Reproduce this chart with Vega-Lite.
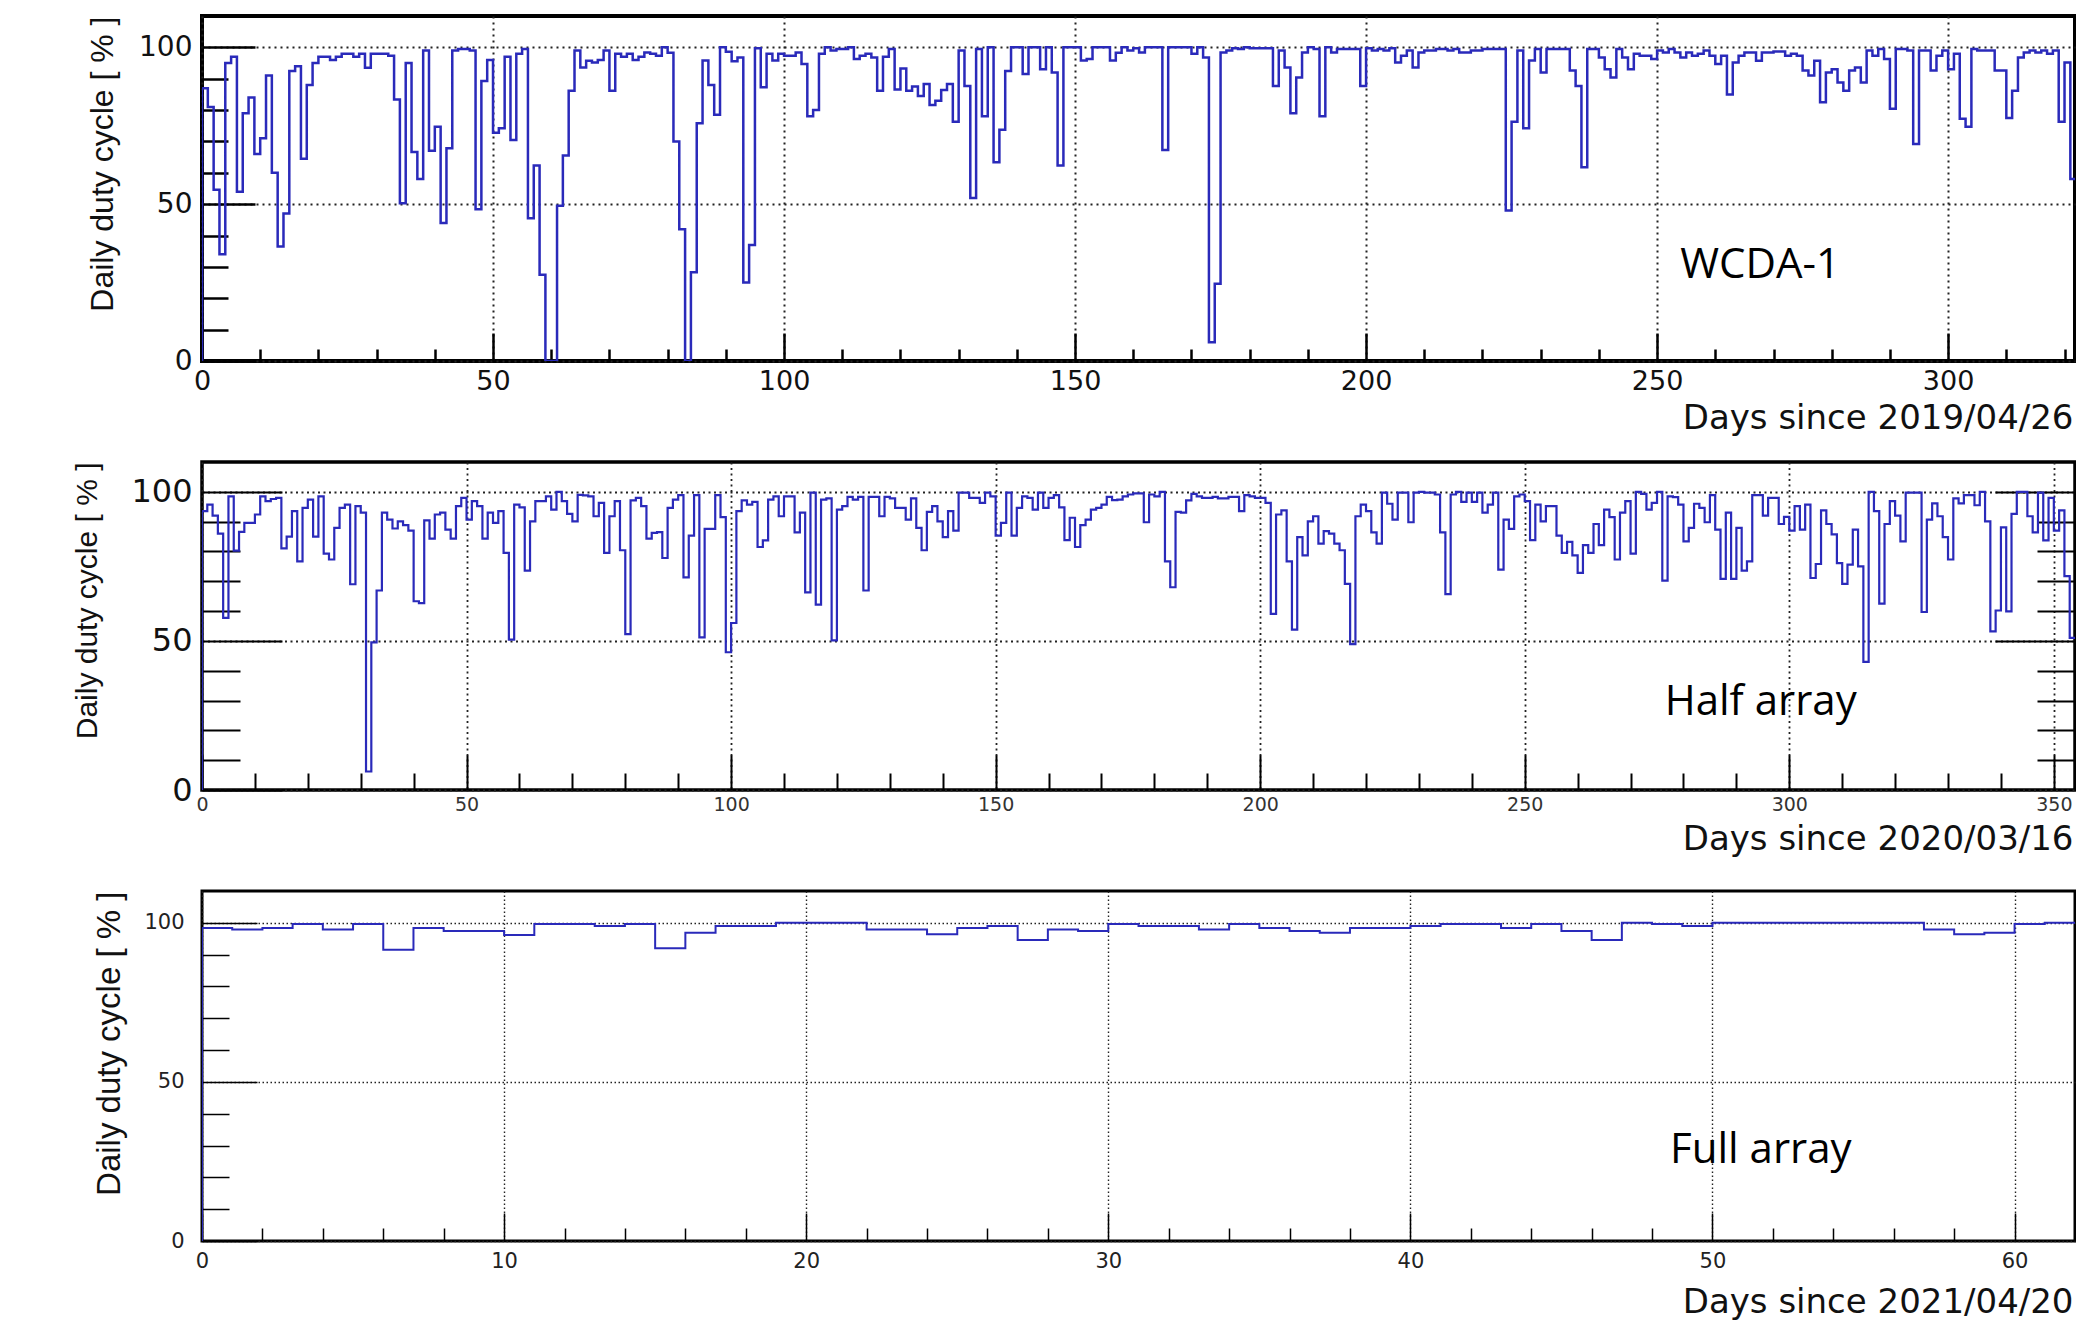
{
"$schema": "https://vega.github.io/schema/vega-lite/v6.json",
"autosize": {"type": "none"},
"padding": {"left": 202, "top": 16, "right": 1874, "bottom": 1304},
"background": "white",
"config": {"axis": {"tickCap": "butt"}},
"datasets": {
"p1": [{"d":0,"v":0},{"d":0,"v":87},{"d":1,"v":81},{"d":2,"v":54.6},{"d":3,"v":34},{"d":4,"v":95},{"d":5,"v":97},{"d":6,"v":54},{"d":7,"v":79},{"d":8,"v":84},{"d":9,"v":66},{"d":10,"v":71},{"d":11,"v":91},{"d":12,"v":60},{"d":13,"v":36.5},{"d":14,"v":47},{"d":15,"v":92.5},{"d":16,"v":94},{"d":17,"v":64.5},{"d":18,"v":88},{"d":19,"v":95},{"d":20,"v":97},{"d":21,"v":97},{"d":22,"v":96},{"d":23,"v":97},{"d":24,"v":98},{"d":25,"v":98},{"d":26,"v":97},{"d":27,"v":98},{"d":28,"v":93.5},{"d":29,"v":98},{"d":30,"v":98},{"d":31,"v":98},{"d":32,"v":97.3},{"d":33,"v":83.4},{"d":34,"v":50.3},{"d":35,"v":95},{"d":36,"v":66.6},{"d":37,"v":58},{"d":38,"v":99},{"d":39,"v":67},{"d":40,"v":74.7},{"d":41,"v":44},{"d":42,"v":67.8},{"d":43,"v":99},{"d":44,"v":99.5},{"d":45,"v":99.5},{"d":46,"v":99},{"d":47,"v":48.4},{"d":48,"v":89.3},{"d":49,"v":96},{"d":50,"v":72.8},{"d":51,"v":74.2},{"d":52,"v":97},{"d":53,"v":70.5},{"d":54,"v":98},{"d":55,"v":99.5},{"d":56,"v":45.5},{"d":57,"v":62.3},{"d":58,"v":27.5},{"d":59,"v":0},{"d":60,"v":0},{"d":61,"v":49.5},{"d":62,"v":65.5},{"d":63,"v":86.2},{"d":64,"v":99},{"d":65,"v":93.6},{"d":66,"v":95.7},{"d":67,"v":95.2},{"d":68,"v":96},{"d":69,"v":99},{"d":70,"v":86.2},{"d":71,"v":98},{"d":72,"v":97},{"d":73,"v":98},{"d":74,"v":96},{"d":75,"v":97},{"d":76,"v":98.4},{"d":77,"v":98},{"d":78,"v":97.3},{"d":79,"v":100},{"d":80,"v":98.3},{"d":81,"v":70},{"d":82,"v":42},{"d":83,"v":0},{"d":84,"v":28.3},{"d":85,"v":75.8},{"d":86,"v":95.8},{"d":87,"v":88},{"d":88,"v":78.5},{"d":89,"v":100},{"d":90,"v":98.6},{"d":91,"v":95.6},{"d":92,"v":96.8},{"d":93,"v":25},{"d":94,"v":37},{"d":95,"v":99.7},{"d":96,"v":87.3},{"d":97,"v":98},{"d":98,"v":95.8},{"d":99,"v":98},{"d":100,"v":97.3},{"d":101,"v":97.3},{"d":102,"v":98.4},{"d":103,"v":94.7},{"d":104,"v":78},{"d":105,"v":80},{"d":106,"v":98},{"d":107,"v":100},{"d":108,"v":99},{"d":109,"v":99.5},{"d":110,"v":99.5},{"d":111,"v":100},{"d":112,"v":96.3},{"d":113,"v":97.3},{"d":114,"v":98},{"d":115,"v":96.8},{"d":116,"v":86.2},{"d":117,"v":97},{"d":118,"v":99.5},{"d":119,"v":86.6},{"d":120,"v":93.3},{"d":121,"v":86.2},{"d":122,"v":87.5},{"d":123,"v":84.5},{"d":124,"v":88.3},{"d":125,"v":81.6},{"d":126,"v":83},{"d":127,"v":86.4},{"d":128,"v":88.3},{"d":129,"v":76.3},{"d":130,"v":99},{"d":131,"v":87.7},{"d":132,"v":52},{"d":133,"v":99.5},{"d":134,"v":78},{"d":135,"v":100},{"d":136,"v":63.4},{"d":137,"v":73.7},{"d":138,"v":92.5},{"d":139,"v":100},{"d":140,"v":100},{"d":141,"v":91.5},{"d":142,"v":100},{"d":143,"v":100},{"d":144,"v":93},{"d":145,"v":100},{"d":146,"v":92},{"d":147,"v":62.3},{"d":148,"v":100},{"d":149,"v":100},{"d":150,"v":100},{"d":151,"v":95.8},{"d":152,"v":96.3},{"d":153,"v":100},{"d":154,"v":100},{"d":155,"v":100},{"d":156,"v":95.8},{"d":157,"v":98.3},{"d":158,"v":100},{"d":159,"v":99},{"d":160,"v":99.7},{"d":161,"v":98.4},{"d":162,"v":100},{"d":163,"v":100},{"d":164,"v":100},{"d":165,"v":67.3},{"d":166,"v":100},{"d":167,"v":100},{"d":168,"v":100},{"d":169,"v":100},{"d":170,"v":98},{"d":171,"v":100},{"d":172,"v":96.8},{"d":173,"v":6},{"d":174,"v":24.6},{"d":175,"v":98.4},{"d":176,"v":99},{"d":177,"v":99.7},{"d":178,"v":99.5},{"d":179,"v":100},{"d":180,"v":99.7},{"d":181,"v":99.7},{"d":182,"v":99.7},{"d":183,"v":99.7},{"d":184,"v":87.7},{"d":185,"v":99},{"d":186,"v":93.6},{"d":187,"v":79},{"d":188,"v":90.4},{"d":189,"v":98.4},{"d":190,"v":100},{"d":191,"v":99.5},{"d":192,"v":78},{"d":193,"v":100},{"d":194,"v":98.4},{"d":195,"v":99.5},{"d":196,"v":99.5},{"d":197,"v":99.5},{"d":198,"v":99.5},{"d":199,"v":87.7},{"d":200,"v":99.7},{"d":201,"v":99},{"d":202,"v":99.5},{"d":203,"v":99},{"d":204,"v":99.7},{"d":205,"v":95.2},{"d":206,"v":97.3},{"d":207,"v":99},{"d":208,"v":93.6},{"d":209,"v":98.4},{"d":210,"v":99},{"d":211,"v":99},{"d":212,"v":99.5},{"d":213,"v":99.5},{"d":214,"v":99},{"d":215,"v":99.5},{"d":216,"v":98.4},{"d":217,"v":98.4},{"d":218,"v":99},{"d":219,"v":99},{"d":220,"v":99.5},{"d":221,"v":99.5},{"d":222,"v":99.5},{"d":223,"v":99.5},{"d":224,"v":48},{"d":225,"v":76.3},{"d":226,"v":99},{"d":227,"v":74.2},{"d":228,"v":95.8},{"d":229,"v":99.5},{"d":230,"v":92},{"d":231,"v":99.5},{"d":232,"v":99.5},{"d":233,"v":99.5},{"d":234,"v":99.5},{"d":235,"v":92.6},{"d":236,"v":87.7},{"d":237,"v":61.8},{"d":238,"v":99.5},{"d":239,"v":99.5},{"d":240,"v":96.8},{"d":241,"v":93},{"d":242,"v":90.4},{"d":243,"v":99.5},{"d":244,"v":96.8},{"d":245,"v":93},{"d":246,"v":98},{"d":247,"v":97.3},{"d":248,"v":97.3},{"d":249,"v":96.3},{"d":250,"v":99},{"d":251,"v":98.4},{"d":252,"v":99.5},{"d":253,"v":98.4},{"d":254,"v":96.8},{"d":255,"v":98.4},{"d":256,"v":97.3},{"d":257,"v":98},{"d":258,"v":99},{"d":259,"v":97.3},{"d":260,"v":94.7},{"d":261,"v":97.3},{"d":262,"v":85},{"d":263,"v":95.2},{"d":264,"v":97.3},{"d":265,"v":98.4},{"d":266,"v":98.4},{"d":267,"v":95.7},{"d":268,"v":98.4},{"d":269,"v":98.4},{"d":270,"v":98.7},{"d":271,"v":98.7},{"d":272,"v":97.3},{"d":273,"v":98},{"d":274,"v":97.3},{"d":275,"v":92.6},{"d":276,"v":91},{"d":277,"v":95.7},{"d":278,"v":82.5},{"d":279,"v":92},{"d":280,"v":93},{"d":281,"v":88.8},{"d":282,"v":86.2},{"d":283,"v":92.6},{"d":284,"v":93.6},{"d":285,"v":88.8},{"d":286,"v":99},{"d":287,"v":97.3},{"d":288,"v":99.5},{"d":289,"v":96.3},{"d":290,"v":80.4},{"d":291,"v":99.5},{"d":292,"v":99.5},{"d":293,"v":99},{"d":294,"v":69.2},{"d":295,"v":99},{"d":296,"v":99},{"d":297,"v":92.6},{"d":298,"v":97.3},{"d":299,"v":99},{"d":300,"v":93},{"d":301,"v":98},{"d":302,"v":77.2},{"d":303,"v":74.7},{"d":304,"v":99.5},{"d":305,"v":99},{"d":306,"v":99},{"d":307,"v":99},{"d":308,"v":92.6},{"d":309,"v":92.6},{"d":310,"v":77.5},{"d":311,"v":86.2},{"d":312,"v":96.8},{"d":313,"v":98.4},{"d":314,"v":99},{"d":315,"v":98.4},{"d":316,"v":99},{"d":317,"v":98},{"d":318,"v":99},{"d":319,"v":76.3},{"d":320,"v":95.2},{"d":321,"v":58},{"d":322,"v":58}],
"p2": [{"d":0,"v":0},{"d":0,"v":93.5},{"d":1,"v":95.7},{"d":2,"v":92},{"d":3,"v":86},{"d":4,"v":57.7},{"d":5,"v":98.5},{"d":6,"v":80.3},{"d":7,"v":86.6},{"d":8,"v":89.6},{"d":9,"v":89.6},{"d":10,"v":92.4},{"d":11,"v":98.5},{"d":12,"v":96.9},{"d":13,"v":97.6},{"d":14,"v":98},{"d":15,"v":81},{"d":16,"v":85},{"d":17,"v":93.5},{"d":18,"v":76.7},{"d":19,"v":94.6},{"d":20,"v":97.4},{"d":21,"v":85},{"d":22,"v":98.5},{"d":23,"v":79.3},{"d":24,"v":77.3},{"d":25,"v":87.9},{"d":26,"v":94.6},{"d":27,"v":95.7},{"d":28,"v":69},{"d":29,"v":95.2},{"d":30,"v":93},{"d":31,"v":6.2},{"d":32,"v":49.5},{"d":33,"v":66.9},{"d":34,"v":93},{"d":35,"v":90.7},{"d":36,"v":87.7},{"d":37,"v":90.1},{"d":38,"v":88.8},{"d":39,"v":87},{"d":40,"v":63.3},{"d":41,"v":62.7},{"d":42,"v":90.4},{"d":43,"v":84.3},{"d":44,"v":92.4},{"d":45,"v":93},{"d":46,"v":87.3},{"d":47,"v":84.3},{"d":48,"v":95.2},{"d":49,"v":98},{"d":50,"v":90.7},{"d":51,"v":96.9},{"d":52,"v":95.2},{"d":53,"v":84.3},{"d":54,"v":93},{"d":55,"v":89.6},{"d":56,"v":93.5},{"d":57,"v":79.5},{"d":58,"v":50.4},{"d":59,"v":95.7},{"d":60,"v":94.8},{"d":61,"v":73.6},{"d":62,"v":90.1},{"d":63,"v":96.9},{"d":64,"v":96.9},{"d":65,"v":98.5},{"d":66,"v":94},{"d":67,"v":100},{"d":68,"v":96.9},{"d":69,"v":92.6},{"d":70,"v":90.1},{"d":71,"v":99},{"d":72,"v":98.8},{"d":73,"v":98.5},{"d":74,"v":91.8},{"d":75,"v":96.3},{"d":76,"v":79.5},{"d":77,"v":91.8},{"d":78,"v":96.9},{"d":79,"v":80.4},{"d":80,"v":52.3},{"d":81,"v":97.1},{"d":82,"v":98},{"d":83,"v":95.2},{"d":84,"v":84.3},{"d":85,"v":86.2},{"d":86,"v":86.5},{"d":87,"v":77.8},{"d":88,"v":94.6},{"d":89,"v":97.4},{"d":90,"v":98.9},{"d":91,"v":71.3},{"d":92,"v":85.3},{"d":93,"v":98.9},{"d":94,"v":51.2},{"d":95,"v":87.6},{"d":96,"v":87.6},{"d":97,"v":98.9},{"d":98,"v":91.5},{"d":99,"v":46.2},{"d":100,"v":56},{"d":101,"v":93.5},{"d":102,"v":97.1},{"d":103,"v":95.7},{"d":104,"v":96.6},{"d":105,"v":81.5},{"d":106,"v":83.7},{"d":107,"v":97.4},{"d":108,"v":98.5},{"d":109,"v":91.8},{"d":110,"v":98.5},{"d":111,"v":98.5},{"d":112,"v":86.4},{"d":113,"v":93},{"d":114,"v":66.3},{"d":115,"v":99.7},{"d":116,"v":62.2},{"d":117,"v":97.4},{"d":118,"v":97.8},{"d":119,"v":50.2},{"d":120,"v":94},{"d":121,"v":95.2},{"d":122,"v":98.3},{"d":123,"v":97.4},{"d":124,"v":98.3},{"d":125,"v":66.9},{"d":126,"v":98.3},{"d":127,"v":98.3},{"d":128,"v":91.8},{"d":129,"v":98.3},{"d":130,"v":97.8},{"d":131,"v":94.6},{"d":132,"v":94.6},{"d":133,"v":90.7},{"d":134,"v":97.8},{"d":135,"v":87.9},{"d":136,"v":80.4},{"d":137,"v":93.3},{"d":138,"v":95.2},{"d":139,"v":90.1},{"d":140,"v":84.8},{"d":141,"v":93.5},{"d":142,"v":87},{"d":143,"v":99.7},{"d":144,"v":99.7},{"d":145,"v":98},{"d":146,"v":98},{"d":147,"v":96.3},{"d":148,"v":99.7},{"d":149,"v":98.5},{"d":150,"v":85.3},{"d":151,"v":89.6},{"d":152,"v":99.7},{"d":153,"v":85.3},{"d":154,"v":94.6},{"d":155,"v":98.5},{"d":156,"v":98},{"d":157,"v":94},{"d":158,"v":99.7},{"d":159,"v":94.6},{"d":160,"v":98},{"d":161,"v":98.9},{"d":162,"v":94.8},{"d":163,"v":83.8},{"d":164,"v":91.3},{"d":165,"v":81.5},{"d":166,"v":88.8},{"d":167,"v":90.7},{"d":168,"v":94},{"d":169,"v":94.6},{"d":170,"v":95.7},{"d":171,"v":98.3},{"d":172,"v":97.2},{"d":173,"v":97.4},{"d":174,"v":98.5},{"d":175,"v":99.1},{"d":176,"v":99.5},{"d":177,"v":99.5},{"d":178,"v":89.8},{"d":179,"v":99.1},{"d":180,"v":98.5},{"d":181,"v":100},{"d":182,"v":76.7},{"d":183,"v":68},{"d":184,"v":93.3},{"d":185,"v":93},{"d":186,"v":97.1},{"d":187,"v":99.3},{"d":188,"v":98.5},{"d":189,"v":98},{"d":190,"v":98},{"d":191,"v":98.3},{"d":192,"v":97.8},{"d":193,"v":97.8},{"d":194,"v":98.3},{"d":195,"v":98.3},{"d":196,"v":93.5},{"d":197,"v":98.9},{"d":198,"v":98.5},{"d":199,"v":98},{"d":200,"v":98},{"d":201,"v":96.3},{"d":202,"v":59.1},{"d":203,"v":92.4},{"d":204,"v":93.8},{"d":205,"v":76.7},{"d":206,"v":53.8},{"d":207,"v":84.8},{"d":208,"v":78.7},{"d":209,"v":90.1},{"d":210,"v":91.8},{"d":211,"v":82.6},{"d":212,"v":86.8},{"d":213,"v":86},{"d":214,"v":82.6},{"d":215,"v":80.4},{"d":216,"v":69.1},{"d":217,"v":48.9},{"d":218,"v":91.8},{"d":219,"v":95.7},{"d":220,"v":93.5},{"d":221,"v":86.4},{"d":222,"v":82.6},{"d":223,"v":99.7},{"d":224,"v":96},{"d":225,"v":90.7},{"d":226,"v":99.7},{"d":227,"v":99.7},{"d":228,"v":89.8},{"d":229,"v":99.7},{"d":230,"v":100},{"d":231,"v":99.7},{"d":232,"v":99.7},{"d":233,"v":99.1},{"d":234,"v":86.4},{"d":235,"v":65.7},{"d":236,"v":99.1},{"d":237,"v":100},{"d":238,"v":96.6},{"d":239,"v":99.7},{"d":240,"v":96.6},{"d":241,"v":99.7},{"d":242,"v":93},{"d":243,"v":95.7},{"d":244,"v":99.7},{"d":245,"v":73.9},{"d":246,"v":90.7},{"d":247,"v":87.6},{"d":248,"v":98.5},{"d":249,"v":99.1},{"d":250,"v":96.9},{"d":251,"v":83.8},{"d":252,"v":95.7},{"d":253,"v":90.1},{"d":254,"v":95.2},{"d":255,"v":95.2},{"d":256,"v":85.3},{"d":257,"v":79.5},{"d":258,"v":83.2},{"d":259,"v":78.7},{"d":260,"v":72.8},{"d":261,"v":82.1},{"d":262,"v":79.5},{"d":263,"v":89.2},{"d":264,"v":82.1},{"d":265,"v":94},{"d":266,"v":91.5},{"d":267,"v":77.3},{"d":268,"v":93},{"d":269,"v":96.9},{"d":270,"v":79.3},{"d":271,"v":100},{"d":272,"v":99.3},{"d":273,"v":94},{"d":274,"v":96.3},{"d":275,"v":100},{"d":276,"v":70.2},{"d":277,"v":98.5},{"d":278,"v":98.2},{"d":279,"v":95.7},{"d":280,"v":83.4},{"d":281,"v":87.9},{"d":282,"v":96},{"d":283,"v":94.6},{"d":284,"v":89.8},{"d":285,"v":98.9},{"d":286,"v":87.3},{"d":287,"v":70.8},{"d":288,"v":93},{"d":289,"v":70.8},{"d":290,"v":87.9},{"d":291,"v":73.6},{"d":292,"v":76.7},{"d":293,"v":98.9},{"d":294,"v":98.9},{"d":295,"v":92},{"d":296,"v":98},{"d":297,"v":98},{"d":298,"v":89.2},{"d":299,"v":91.6},{"d":300,"v":87},{"d":301,"v":95.2},{"d":302,"v":87.3},{"d":303,"v":95.7},{"d":304,"v":71.1},{"d":305,"v":75.8},{"d":306,"v":93.8},{"d":307,"v":89.2},{"d":308,"v":85.7},{"d":309,"v":76.1},{"d":310,"v":69.1},{"d":311,"v":75.6},{"d":312,"v":87.3},{"d":313,"v":75},{"d":314,"v":43},{"d":315,"v":100},{"d":316,"v":93.5},{"d":317,"v":62.5},{"d":318,"v":89.2},{"d":319,"v":96.9},{"d":320,"v":92},{"d":321,"v":83.4},{"d":322,"v":99.7},{"d":323,"v":99.7},{"d":324,"v":99.7},{"d":325,"v":59.7},{"d":326,"v":90.7},{"d":327,"v":96.1},{"d":328,"v":91.8},{"d":329,"v":84.8},{"d":330,"v":77.3},{"d":331,"v":97.8},{"d":332,"v":96.1},{"d":333,"v":98.9},{"d":334,"v":98.9},{"d":335,"v":95.5},{"d":336,"v":100},{"d":337,"v":90.1},{"d":338,"v":53.2},{"d":339,"v":60.2},{"d":340,"v":88.1},{"d":341,"v":59.9},{"d":342,"v":92.6},{"d":343,"v":100},{"d":344,"v":100},{"d":345,"v":91.8},{"d":346,"v":86.4},{"d":347,"v":99.7},{"d":348,"v":83.7},{"d":349,"v":98},{"d":350,"v":87},{"d":351,"v":93.8},{"d":352,"v":71.7},{"d":353,"v":51},{"d":354,"v":51}],
"p3": [{"d":0,"v":0},{"d":0,"v":98.4},{"d":1,"v":97.9},{"d":2,"v":98.4},{"d":3,"v":99.6},{"d":4,"v":97.9},{"d":5,"v":99.6},{"d":6,"v":91.5},{"d":7,"v":98.4},{"d":8,"v":97.4},{"d":9,"v":97.4},{"d":10,"v":96.2},{"d":11,"v":99.6},{"d":12,"v":99.6},{"d":13,"v":99},{"d":14,"v":99.6},{"d":15,"v":92},{"d":16,"v":96.9},{"d":17,"v":99},{"d":18,"v":99},{"d":19,"v":100},{"d":20,"v":100},{"d":21,"v":100},{"d":22,"v":97.9},{"d":23,"v":97.9},{"d":24,"v":96.4},{"d":25,"v":98.4},{"d":26,"v":99},{"d":27,"v":94.6},{"d":28,"v":97.9},{"d":29,"v":97.4},{"d":30,"v":99.6},{"d":31,"v":99},{"d":32,"v":99},{"d":33,"v":97.9},{"d":34,"v":99.6},{"d":35,"v":98.4},{"d":36,"v":97.4},{"d":37,"v":96.9},{"d":38,"v":98.4},{"d":39,"v":98.4},{"d":40,"v":99},{"d":41,"v":99.6},{"d":42,"v":99.6},{"d":43,"v":98.4},{"d":44,"v":99.6},{"d":45,"v":97.4},{"d":46,"v":94.6},{"d":47,"v":100},{"d":48,"v":99.6},{"d":49,"v":99},{"d":50,"v":100},{"d":51,"v":100},{"d":52,"v":100},{"d":53,"v":100},{"d":54,"v":100},{"d":55,"v":100},{"d":56,"v":100},{"d":57,"v":97.9},{"d":58,"v":96.4},{"d":59,"v":96.9},{"d":60,"v":99.6},{"d":61,"v":100},{"d":62,"v":100}]
},
"vconcat": [
{
"width": 1873, "height": 345,
"view": {"stroke": "black", "strokeWidth": 4},
"resolve": {"axis": {"x": "independent", "y": "independent"}},
"layer": [
{"data": {"name": "p1"},
 "mark": {"type": "line", "interpolate": "step-after", "color": "#2a2aba", "strokeWidth": 2.5, "clip": true},
 "encoding": {
  "x": {"field": "d", "type": "quantitative", "scale": {"domain": [0, 321.8], "nice": false, "zero": false},
   "axis": {"orient": "bottom", "values": [0,50,100,150,200,250,300], "tickSize": -28, "tickWidth": 2.5, "tickColor": "black", "labelPadding": 35, "labelFont": "DejaVu Sans", "labelFontSize": 27, "labelColor": "#111", "labelFlush": false, "labelOverlap": false, "domain": false, "grid": true, "gridDash": [2,4], "gridColor": "#222", "gridWidth": 2, "title": "Days since 2019/04/26", "titleFont": "DejaVu Sans", "titleFontSize": 34, "titleFontWeight": "normal", "titleColor": "#111", "titleX": 1871, "titleY": 67, "titleAlign": "right", "titleBaseline": "alphabetic", "titleAngle": 0}},
  "y": {"field": "v", "type": "quantitative", "scale": {"domain": [0, 110], "nice": false},
   "axis": {"orient": "left", "values": [0,50,100], "tickSize": -53, "tickWidth": 2.5, "tickColor": "black", "labelPadding": 63, "labelFont": "DejaVu Sans", "labelFontSize": 28, "labelColor": "#111", "labelOverlap": false, "domain": false, "grid": true, "gridDash": [2,4], "gridColor": "#222", "gridWidth": 2, "title": "Daily duty cycle [ % ]", "titleFont": "Liberation Sans", "titleFontSize": 32, "titleFontWeight": "normal", "titleColor": "#111", "titleX": -100, "titleY": 0, "titleAlign": "right", "titleBaseline": "middle", "titleAngle": -90}}
 }},
{"data": {"name": "p1"},
 "mark": {"type": "line", "opacity": 0},
 "encoding": {
  "x": {"field": "d", "type": "quantitative", "scale": {"domain": [0, 321.8], "nice": false, "zero": false},
   "axis": {"orient": "bottom", "values": [10,20,30,40,60,70,80,90,110,120,130,140,160,170,180,190,210,220,230,240,260,270,280,290,310,320], "tickSize": -12, "tickWidth": 2.5, "tickColor": "black", "labels": false, "domain": false, "grid": false, "title": null}},
  "y": {"field": "v", "type": "quantitative", "scale": {"domain": [0, 110], "nice": false},
   "axis": {"orient": "left", "values": [10,20,30,40,60,70,80,90], "tickSize": -26, "tickWidth": 2.5, "tickColor": "black", "labels": false, "domain": false, "grid": false, "title": null}}
 }},
{"data": {"values": [{"x": 267.7, "y": 26.5, "t": "WCDA-1"}]},
 "mark": {"type": "text", "font": "Open Sans", "fontSize": 42, "align": "center", "baseline": "alphabetic", "color": "black"},
 "encoding": {
  "x": {"field": "x", "type": "quantitative", "scale": {"domain": [0, 321.8], "nice": false, "zero": false}, "axis": null},
  "y": {"field": "y", "type": "quantitative", "scale": {"domain": [0, 110], "nice": false}, "axis": null},
  "text": {"field": "t"}
 }}
]
},
{
"width": 1873, "height": 328,
"view": {"stroke": "black", "strokeWidth": 3.5},
"resolve": {"axis": {"x": "independent", "y": "independent"}},
"layer": [
{"data": {"name": "p2"},
 "mark": {"type": "line", "interpolate": "step-after", "color": "#2a2aba", "strokeWidth": 2.2, "clip": true},
 "encoding": {
  "x": {"field": "d", "type": "quantitative", "scale": {"domain": [0, 354], "nice": false, "zero": false},
   "axis": {"orient": "bottom", "values": [0,50,100,150,200,250,300,350], "tickSize": -35, "tickWidth": 2, "tickColor": "black", "labelPadding": 40, "labelFont": "DejaVu Sans", "labelFontSize": 19, "labelColor": "#333", "labelFlush": false, "labelOverlap": false, "domain": false, "grid": true, "gridDash": [2,3.5], "gridColor": "#222", "gridWidth": 1.8, "title": "Days since 2020/03/16", "titleFont": "DejaVu Sans", "titleFontSize": 34, "titleFontWeight": "normal", "titleColor": "#111", "titleX": 1871, "titleY": 59, "titleAlign": "right", "titleBaseline": "alphabetic", "titleAngle": 0}},
  "y": {"field": "v", "type": "quantitative", "scale": {"domain": [0, 110], "nice": false},
   "axis": {"orient": "left", "values": [0,50,100], "tickSize": -80, "tickWidth": 2, "tickColor": "black", "labelPadding": 90, "labelFont": "DejaVu Sans", "labelFontSize": 32, "labelColor": "#111", "labelOverlap": false, "domain": false, "grid": true, "gridDash": [2,3.5], "gridColor": "#222", "gridWidth": 1.8, "title": "Daily duty cycle [ % ]", "titleFont": "Liberation Sans", "titleFontSize": 30, "titleFontWeight": "normal", "titleColor": "#111", "titleX": -115, "titleY": 0, "titleAlign": "right", "titleBaseline": "middle", "titleAngle": -90}}
 }},
{"data": {"name": "p2"},
 "mark": {"type": "line", "opacity": 0},
 "encoding": {
  "x": {"field": "d", "type": "quantitative", "scale": {"domain": [0, 354], "nice": false, "zero": false},
   "axis": {"orient": "bottom", "values": [10,20,30,40,60,70,80,90,110,120,130,140,160,170,180,190,210,220,230,240,260,270,280,290,310,320,330,340], "tickSize": -17, "tickWidth": 2, "tickColor": "black", "labels": false, "domain": false, "grid": false, "title": null}},
  "y": {"field": "v", "type": "quantitative", "scale": {"domain": [0, 110], "nice": false},
   "axis": {"orient": "left", "values": [10,20,30,40,60,70,80,90], "tickSize": -38, "tickWidth": 2, "tickColor": "black", "labels": false, "domain": false, "grid": false, "title": null}}
 }},
{"data": {"name": "p2"},
 "mark": {"type": "line", "opacity": 0},
 "encoding": {
  "x": {"field": "d", "type": "quantitative", "scale": {"domain": [0, 354], "nice": false, "zero": false}, "axis": null},
  "y": {"field": "v", "type": "quantitative", "scale": {"domain": [0, 110], "nice": false},
   "axis": {"orient": "right", "values": [50,100], "tickSize": -80, "tickWidth": 2, "tickColor": "black", "labels": false, "domain": false, "grid": false, "title": null}}
 }},
{"data": {"name": "p2"},
 "mark": {"type": "line", "opacity": 0},
 "encoding": {
  "x": {"field": "d", "type": "quantitative", "scale": {"domain": [0, 354], "nice": false, "zero": false}, "axis": null},
  "y": {"field": "v", "type": "quantitative", "scale": {"domain": [0, 110], "nice": false},
   "axis": {"orient": "right", "values": [10,20,30,40,60,70,80,90], "tickSize": -38, "tickWidth": 2, "tickColor": "black", "labels": false, "domain": false, "grid": false, "title": null}}
 }},
{"data": {"values": [{"x": 294.6, "y": 25.2, "t": "Half array"}]},
 "mark": {"type": "text", "font": "Open Sans", "fontSize": 42, "align": "center", "baseline": "alphabetic", "color": "black"},
 "encoding": {
  "x": {"field": "x", "type": "quantitative", "scale": {"domain": [0, 354], "nice": false, "zero": false}, "axis": null},
  "y": {"field": "y", "type": "quantitative", "scale": {"domain": [0, 110], "nice": false}, "axis": null},
  "text": {"field": "t"}
 }}
]
},
{
"width": 1873, "height": 350,
"view": {"stroke": "black", "strokeWidth": 3},
"resolve": {"axis": {"x": "independent", "y": "independent"}},
"layer": [
{"data": {"name": "p3"},
 "mark": {"type": "line", "interpolate": "step-after", "color": "#2a2aba", "strokeWidth": 2, "clip": true},
 "encoding": {
  "x": {"field": "d", "type": "quantitative", "scale": {"domain": [0, 62], "nice": false, "zero": false},
   "axis": {"orient": "bottom", "values": [0,10,20,30,40,50,60], "tickSize": -28, "tickWidth": 1.5, "tickColor": "black", "labelPadding": 37, "labelFont": "DejaVu Sans", "labelFontSize": 21, "labelColor": "#222", "labelFlush": false, "labelOverlap": false, "domain": false, "grid": true, "gridDash": [1.5,2.5], "gridColor": "#222", "gridWidth": 1.4, "title": "Days since 2021/04/20", "titleFont": "DejaVu Sans", "titleFontSize": 34, "titleFontWeight": "normal", "titleColor": "#111", "titleX": 1871, "titleY": 71, "titleAlign": "right", "titleBaseline": "alphabetic", "titleAngle": 0}},
  "y": {"field": "v", "type": "quantitative", "scale": {"domain": [0, 110], "nice": false},
   "axis": {"orient": "left", "values": [0,50,100], "tickSize": -55, "tickWidth": 1.5, "tickColor": "black", "labelPadding": 73, "labelFont": "DejaVu Sans", "labelFontSize": 21, "labelColor": "#222", "labelOverlap": false, "domain": false, "grid": true, "gridDash": [1.5,2.5], "gridColor": "#222", "gridWidth": 1.4, "title": "Daily duty cycle [ % ]", "titleFont": "Liberation Sans", "titleFontSize": 33, "titleFontWeight": "normal", "titleColor": "#111", "titleX": -93, "titleY": 0, "titleAlign": "right", "titleBaseline": "middle", "titleAngle": -90}}
 }},
{"data": {"name": "p3"},
 "mark": {"type": "line", "opacity": 0},
 "encoding": {
  "x": {"field": "d", "type": "quantitative", "scale": {"domain": [0, 62], "nice": false, "zero": false},
   "axis": {"orient": "bottom", "values": [2,4,6,8,12,14,16,18,22,24,26,28,32,34,36,38,42,44,46,48,52,54,56,58], "tickSize": -13, "tickWidth": 1.5, "tickColor": "black", "labels": false, "domain": false, "grid": false, "title": null}},
  "y": {"field": "v", "type": "quantitative", "scale": {"domain": [0, 110], "nice": false},
   "axis": {"orient": "left", "values": [10,20,30,40,60,70,80,90], "tickSize": -27, "tickWidth": 1.5, "tickColor": "black", "labels": false, "domain": false, "grid": false, "title": null}}
 }},
{"data": {"values": [{"x": 51.6, "y": 24.5, "t": "Full array"}]},
 "mark": {"type": "text", "font": "Open Sans", "fontSize": 42, "align": "center", "baseline": "alphabetic", "color": "black"},
 "encoding": {
  "x": {"field": "x", "type": "quantitative", "scale": {"domain": [0, 62], "nice": false, "zero": false}, "axis": null},
  "y": {"field": "y", "type": "quantitative", "scale": {"domain": [0, 110], "nice": false}, "axis": null},
  "text": {"field": "t"}
 }}
]
}
],
"spacing": 101,
"bounds": "flush"
}
